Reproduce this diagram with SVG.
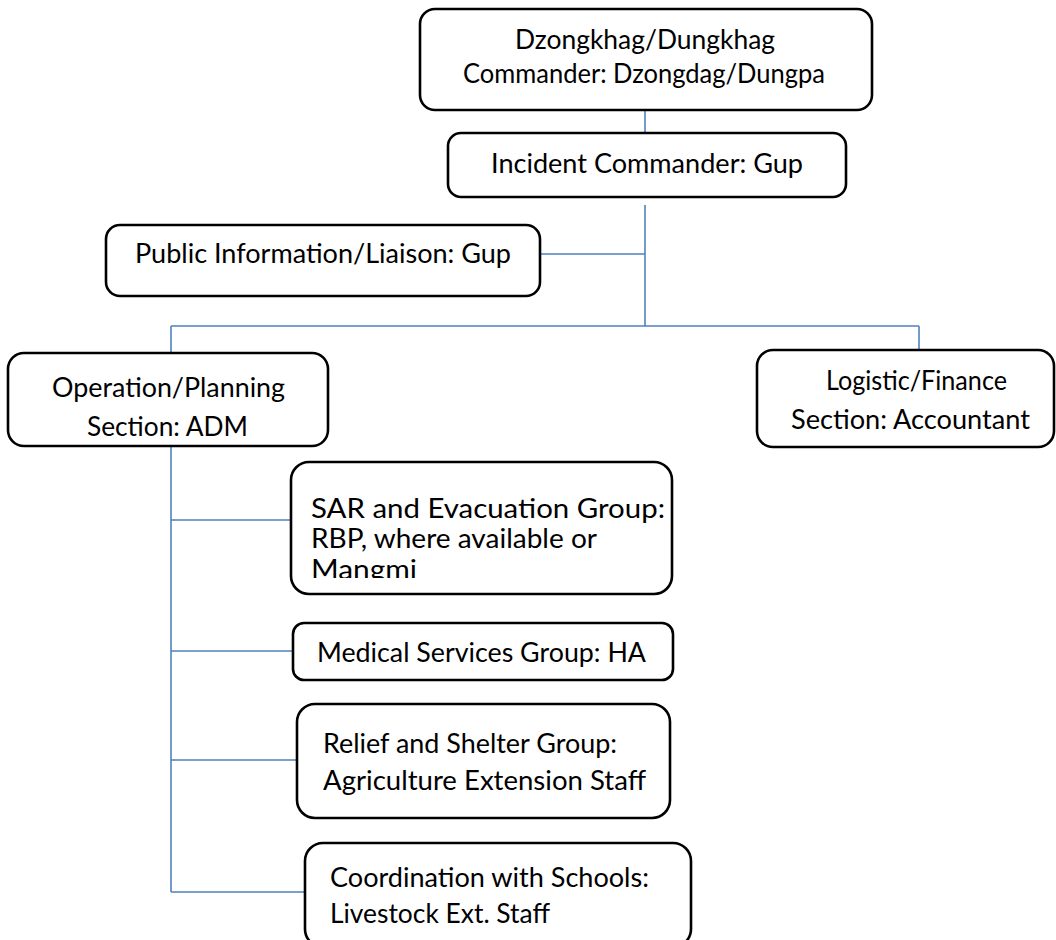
<svg xmlns="http://www.w3.org/2000/svg" width="1056" height="940" viewBox="0 0 1056 940">
<style>
.box{fill:#fff;stroke:#000;stroke-width:2.6}
.t{font-family:Lato,"Liberation Sans",sans-serif;font-size:26px;fill:#000}
.c{fill:none;stroke:#4F81BD;stroke-width:1.6}
</style>
<defs>
<clipPath id="sarclip"><rect x="280" y="455" width="400" height="123"/></clipPath>
</defs>
<rect width="1056" height="940" fill="#fff"/>
<g id="connectors">
<path class="c" d="M645 110V133"/>
<path class="c" d="M645 205V326"/>
<path class="c" d="M540 254H645"/>
<path class="c" d="M171 326H919"/>
<path class="c" d="M171 326V353"/>
<path class="c" d="M919 326V350"/>
<path class="c" d="M171 446V892"/>
<path class="c" d="M171 520H291"/>
<path class="c" d="M171 651H293"/>
<path class="c" d="M171 760H297"/>
<path class="c" d="M171 892H305"/>
</g>
<g id="dzongkhag">
<rect class="box" x="420" y="9" width="452" height="101" rx="15"/>
<text class="t" x="515" y="49" textLength="260" lengthAdjust="spacingAndGlyphs">Dzongkhag/Dungkhag</text>
<text class="t" x="463" y="83" textLength="362" lengthAdjust="spacingAndGlyphs">Commander: Dzongdag/Dungpa</text>
</g>
<g id="incident">
<rect class="box" x="448" y="133" width="398" height="64" rx="13"/>
<text class="t" x="491" y="173" textLength="312" lengthAdjust="spacingAndGlyphs">Incident Commander: Gup</text>
</g>
<g id="public">
<rect class="box" x="106" y="225" width="434" height="71" rx="14"/>
<text class="t" x="135" y="263" textLength="376" lengthAdjust="spacingAndGlyphs">Public Information/Liaison: Gup</text>
</g>
<g id="operation">
<rect class="box" x="8" y="353" width="320" height="93" rx="16"/>
<text class="t" x="52" y="397" textLength="233" lengthAdjust="spacingAndGlyphs">Operation/Planning</text>
<text class="t" x="87" y="436" textLength="161" lengthAdjust="spacingAndGlyphs">Section: ADM</text>
</g>
<g id="logistic">
<rect class="box" x="757" y="350" width="297" height="97" rx="16"/>
<text class="t" x="826" y="390" textLength="181" lengthAdjust="spacingAndGlyphs">Logistic/Finance</text>
<text class="t" x="791" y="429" textLength="239" lengthAdjust="spacingAndGlyphs">Section: Accountant</text>
</g>
<g id="sar">
<rect class="box" x="291" y="462" width="381" height="132" rx="18"/>
<g clip-path="url(#sarclip)">
<text class="t" x="311" y="518" textLength="354" lengthAdjust="spacingAndGlyphs">SAR and Evacuation Group:</text>
<text class="t" x="311" y="548" textLength="286" lengthAdjust="spacingAndGlyphs">RBP, where available or</text>
<text class="t" x="311" y="579" textLength="106" lengthAdjust="spacingAndGlyphs">Mangmi</text>
</g>
</g>
<g id="medical">
<rect class="box" x="293" y="623" width="380" height="57" rx="11"/>
<text class="t" x="317" y="662" textLength="329" lengthAdjust="spacingAndGlyphs">Medical Services Group: HA</text>
</g>
<g id="relief">
<rect class="box" x="297" y="704" width="373" height="114" rx="18"/>
<text class="t" x="323" y="753" textLength="294" lengthAdjust="spacingAndGlyphs">Relief and Shelter Group:</text>
<text class="t" x="323" y="790" textLength="323" lengthAdjust="spacingAndGlyphs">Agriculture Extension Staff</text>
</g>
<g id="coordination">
<rect class="box" x="305" y="843" width="386" height="104" rx="18"/>
<text class="t" x="330" y="887" textLength="319" lengthAdjust="spacingAndGlyphs">Coordination with Schools:</text>
<text class="t" x="330" y="923" textLength="220" lengthAdjust="spacingAndGlyphs">Livestock Ext. Staff</text>
</g>
</svg>
